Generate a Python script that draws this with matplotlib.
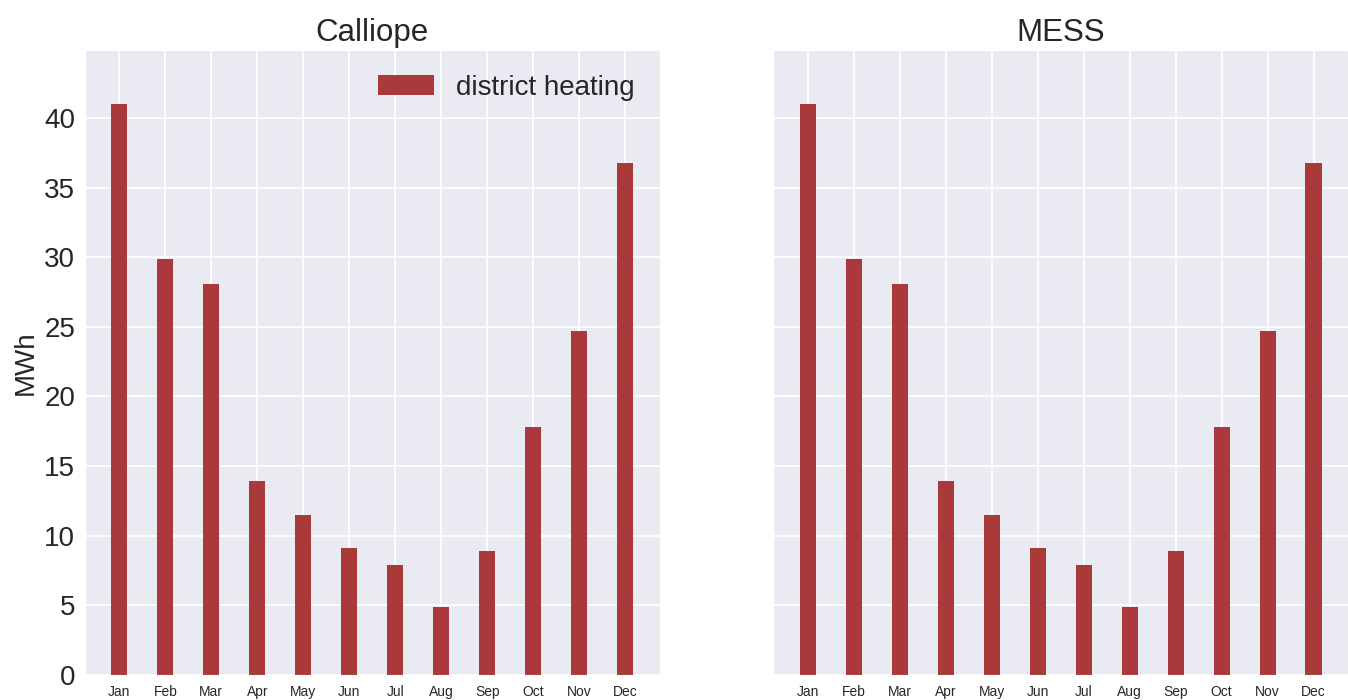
import matplotlib
matplotlib.use('Agg')
import matplotlib.pyplot as plt
import seaborn as sns
import numpy as np

months = ['Jan', 'Feb', 'Mar', 'Apr', 'May', 'Jun',
          'Jul', 'Aug', 'Sep', 'Oct', 'Nov', 'Dec']
calliope_heat = [41.0, 29.85, 28.1, 13.9, 11.5, 9.08, 7.9, 4.9, 8.88, 17.8, 24.7, 36.75]
mess_heat = [41.0, 29.85, 28.1, 13.9, 11.5, 9.08, 7.9, 4.9, 8.88, 17.8, 24.7, 36.75]
titles = ['Calliope', 'MESS']

sns.set_style('darkgrid')
plt.rcParams['font.family'] = ['Liberation Sans', 'DejaVu Sans']
plt.rcParams['grid.linewidth'] = 1.3

bar_color = '#a9393b'

fig, axes = plt.subplots(1, 2, figsize=(13.48, 7), dpi=100, sharey=True)
fig.subplots_adjust(left=0.063, right=1.0, top=0.929, bottom=0.036, wspace=0.198)

x = np.arange(len(months))
for ax, data, title in zip(axes, [calliope_heat, mess_heat], titles):
    ax.bar(x, data, width=0.35, color=bar_color, linewidth=0, label='district heating')
    ax.set_title(title, fontsize=22.5)
    ax.set_xticks(x)
    ax.set_xticklabels(months, fontsize=10)
    ax.set_xlim(-0.75, 11.75)
    ax.set_ylim(0, 44.9)
    ax.set_yticks(range(0, 45, 5))
    ax.tick_params(axis='y', labelsize=20)
    ax.tick_params(axis='x', pad=4)

axes[0].set_ylabel('MWh', fontsize=20)
axes[0].legend(loc='upper right', fontsize=20, frameon=False)

plt.savefig('out.png', dpi=100)
